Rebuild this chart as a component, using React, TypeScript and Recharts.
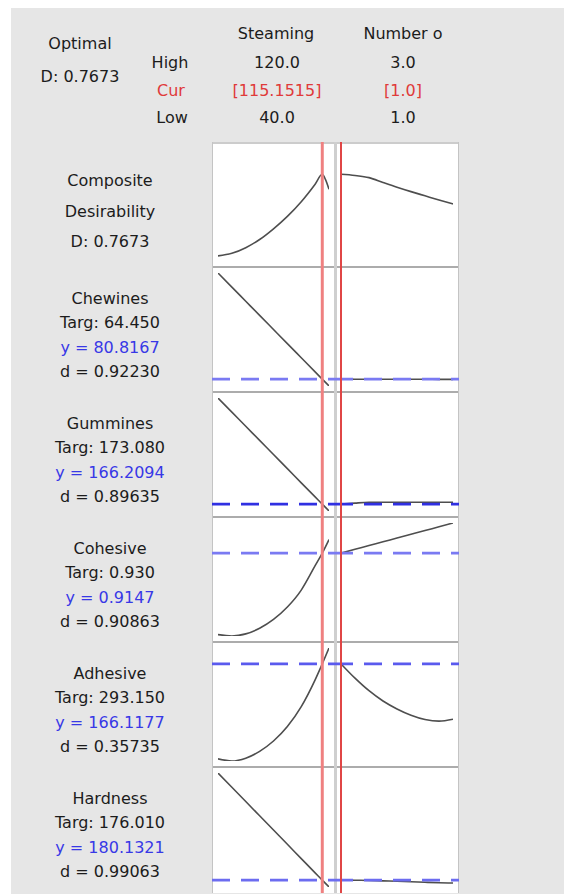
import React from 'react';
import { LineChart, Line, XAxis, YAxis, ReferenceLine } from 'recharts';

// factor settings
const factorNames = ['Steaming', 'Number o'];
const factorHigh = ['120.0', '3.0'];
const factorCur = ['[115.1515]', '[1.0]'];
const factorLow = ['40.0', '1.0'];
const curSteam = 115.1515;
const curNumber = 1;
const steamRange = [40, 120];
const numberRange = [1, 3];

// x grids of the traces
const steamX = [40, 50, 60, 70, 80, 90, 100, 110, 115.1515, 120];
const compositeSteamX = [40, 50, 60, 70, 80, 90, 100, 110, 115.1515, 117.5, 120];
const numberX = [1, 1.25, 1.5, 1.75, 2, 2.25, 2.5, 2.75, 3];

// composite desirability
const compositeD = 0.7673;
const compositeSteam = [0.045, 0.068, 0.118, 0.19, 0.285, 0.395, 0.525, 0.68, 0.7673, 0.72, 0.634];
const compositeNumber = [0.7673, 0.757, 0.738, 0.695, 0.653, 0.614, 0.577, 0.54, 0.505];

// responses
const responseNames = ['Chewines', 'Gummines', 'Cohesive', 'Adhesive', 'Hardness'];
const targets = ['64.450', '173.080', '0.930', '293.150', '176.010'];
const predicted = [80.8167, 166.2094, 0.9147, 166.1177, 180.1321];
const dValues = ['0.92230', '0.89635', '0.90863', '0.35735', '0.99063'];

const chewSteam = [163.3, 152.3, 141.35, 130.4, 119.4, 108.4, 97.45, 86.5, 80.8167, 75.5];
const chewNumber = [80.8167, 80.8, 80.78, 80.76, 80.74, 80.72, 80.7, 80.68, 80.66];
const gumSteam = [246.9, 236.2, 225.4, 214.7, 203.9, 193.2, 182.4, 171.7, 166.2094, 161.0];
const gumNumber = [166.2094, 167.0, 167.6, 167.7, 167.7, 167.7, 167.7, 167.7, 167.7];
const cohSteam = [0.684, 0.68, 0.686, 0.702, 0.727, 0.762, 0.81, 0.879, 0.9147, 0.953];
const cohNumber = [0.9147, 0.9254, 0.936, 0.9467, 0.9573, 0.968, 0.9787, 0.9893, 1.0];
const adhSteam = [22.6, 19.3, 23.6, 33.9, 49.5, 71.4, 101.5, 142, 166.1177, 190.1];
const adhNumber = [166.1177, 144.5, 125.5, 110, 98, 88.5, 82, 79.5, 82.5];
const hardSteam = [286.0, 271.9, 257.8, 243.7, 229.6, 215.5, 201.4, 187.3, 180.1321, 173.3];
const hardNumber = [180.1321, 180.0, 179.8, 179.4, 179.0, 178.5, 178.0, 177.5, 177.2];

const steamSeries = [chewSteam, gumSteam, cohSteam, adhSteam, hardSteam];
const numberSeries = [chewNumber, gumNumber, cohNumber, adhNumber, hardNumber];
const dashColors = ['#7a7af2', '#3030e2', '#7a7af2', '#5a5aee', '#6c6cf0'];

const FONT = '"DejaVu Sans", sans-serif';
const TEXT = '#1c1c1c';
const RED = '#e03a3a';
const BLUE = '#3838e6';

const PANEL_L = 212;
const MID = 335;
const PANEL_R = 459;
const ROW_TOP = 142;
const ROW_H = 125;

function Label({ x, y, text, color = TEXT }: { x: number; y: number; text: string; color?: string }) {
  return (
    <div
      style={{
        position: 'absolute',
        left: x,
        top: y,
        transform: 'translate(-50%, -50%)',
        whiteSpace: 'nowrap',
        fontFamily: FONT,
        fontSize: 16,
        color,
        lineHeight: 1,
      }}
    >
      {text}
    </div>
  );
}

type CellProps = {
  left: number;
  top: number;
  width: number;
  height: number;
  xs: number[];
  ys: number[];
  xDomain: number[];
  yDomain: number[];
  cur: number;
  curColor: string;
  curWidth: number;
  yLine?: number;
  dashColor?: string;
};

function TraceCell(p: CellProps) {
  const data = p.xs.map((x, i) => ({ x, y: p.ys[i] }));
  return (
    <div style={{ position: 'absolute', left: p.left, top: p.top }}>
      <LineChart width={p.width} height={p.height} data={data} margin={{ top: 0, right: 0, bottom: 0, left: 0 }}>
        <XAxis
          dataKey="x"
          type="number"
          domain={p.xDomain}
          allowDataOverflow
          hide
          padding={{ left: 6, right: 6 }}
        />
        <YAxis type="number" domain={p.yDomain} allowDataOverflow hide padding={{ top: 6, bottom: 6 }} />
        <Line
          dataKey="y"
          type="monotone"
          stroke="#4e4e4e"
          strokeWidth={1.6}
          dot={false}
          isAnimationActive={false}
        />
        {p.yLine !== undefined && (
          <ReferenceLine y={p.yLine} stroke={p.dashColor} strokeWidth={2.6} strokeDasharray="18 11" />
        )}
        <ReferenceLine x={p.cur} stroke={p.curColor} strokeWidth={p.curWidth} />
      </LineChart>
    </div>
  );
}

function Row({ index, steamXs, steamYs, numYs, domain, yLine, dashColor }: {
  index: number;
  steamXs: number[];
  steamYs: number[];
  numYs: number[];
  domain: number[];
  yLine?: number;
  dashColor?: string;
}) {
  const top = ROW_TOP + index * ROW_H;
  const h = index === 5 ? ROW_H + 1 : ROW_H;
  return (
    <>
      <TraceCell
        left={PANEL_L}
        top={top}
        width={MID - PANEL_L}
        height={h}
        xs={steamXs}
        ys={steamYs}
        xDomain={steamRange}
        yDomain={domain}
        cur={curSteam}
        curColor="#ef8080"
        curWidth={3}
        yLine={yLine}
        dashColor={dashColor}
      />
      <TraceCell
        left={MID}
        top={top}
        width={PANEL_R - MID}
        height={h}
        xs={numberX}
        ys={numYs}
        xDomain={numberRange}
        yDomain={domain}
        cur={curNumber}
        curColor="#e04646"
        curWidth={2}
        yLine={yLine}
        dashColor={dashColor}
      />
    </>
  );
}

export default function App() {
  const panelBottom = ROW_TOP + 6 * ROW_H + 1;
  const lineOffsets = [32, 56, 81, 105];
  return (
    <div style={{ position: 'absolute', left: 0, top: 0, width: 564, height: 894, background: '#fff', overflow: 'hidden' }}>
      <div style={{ position: 'absolute', left: 11, top: 8, width: 553, height: 886, background: '#e6e6e6' }} />

      {/* header */}
      <Label x={80} y={44} text="Optimal" />
      <Label x={80} y={77} text={`D: ${compositeD}`} />
      <Label x={170} y={63} text="High" />
      <Label x={171} y={91} text="Cur" color={RED} />
      <Label x={172} y={118} text="Low" />
      {factorNames.map((n, i) => (
        <React.Fragment key={n}>
          <Label x={i === 0 ? 276 : 403} y={34} text={n} />
          <Label x={i === 0 ? 277 : 403} y={63} text={factorHigh[i]} />
          <Label x={i === 0 ? 277 : 403} y={91} text={factorCur[i]} color={RED} />
          <Label x={i === 0 ? 277 : 403} y={118} text={factorLow[i]} />
        </React.Fragment>
      ))}

      {/* row labels */}
      <Label x={110} y={181} text="Composite" />
      <Label x={110} y={212} text="Desirability" />
      <Label x={110} y={242} text={`D: ${compositeD}`} />
      {responseNames.map((n, i) => {
        const t = ROW_TOP + (i + 1) * ROW_H;
        return (
          <React.Fragment key={n}>
            <Label x={110} y={t + lineOffsets[0]} text={n} />
            <Label x={110} y={t + lineOffsets[1]} text={`Targ: ${targets[i]}`} />
            <Label x={110} y={t + lineOffsets[2]} text={`y = ${predicted[i]}`} color={BLUE} />
            <Label x={110} y={t + lineOffsets[3]} text={`d = ${dValues[i]}`} />
          </React.Fragment>
        );
      })}

      {/* panel and separators */}
      <div style={{ position: 'absolute', left: PANEL_L, top: ROW_TOP, width: PANEL_R - PANEL_L, height: panelBottom - ROW_TOP, background: '#fff' }} />
      <div style={{ position: 'absolute', left: PANEL_L, top: ROW_TOP, width: PANEL_R - PANEL_L, height: 2, background: '#cccccc' }} />
      {[1, 2, 3, 4, 5].map((i) => (
        <div key={i} style={{ position: 'absolute', left: PANEL_L, top: ROW_TOP + i * ROW_H - 1, width: PANEL_R - PANEL_L, height: 2, background: '#acacac' }} />
      ))}
      <div style={{ position: 'absolute', left: PANEL_L, top: ROW_TOP, width: 1, height: panelBottom - ROW_TOP, background: '#c4c4c4' }} />
      <div style={{ position: 'absolute', left: PANEL_R - 1, top: ROW_TOP, width: 1, height: panelBottom - ROW_TOP, background: '#c4c4c4' }} />
      <div style={{ position: 'absolute', left: MID - 1.5, top: ROW_TOP, width: 3, height: panelBottom - ROW_TOP, background: '#cfcfcf' }} />

      {/* traces */}
      <Row index={0} steamXs={compositeSteamX} steamYs={compositeSteam} numYs={compositeNumber} domain={[0, 1]} />
      {responseNames.map((n, i) => {
        const all = [...steamSeries[i], ...numberSeries[i]];
        return (
          <Row
            key={n}
            index={i + 1}
            steamXs={steamX}
            steamYs={steamSeries[i]}
            numYs={numberSeries[i]}
            domain={[Math.min(...all), Math.max(...all)]}
            yLine={predicted[i]}
            dashColor={dashColors[i]}
          />
        );
      })}
    </div>
  );
}
